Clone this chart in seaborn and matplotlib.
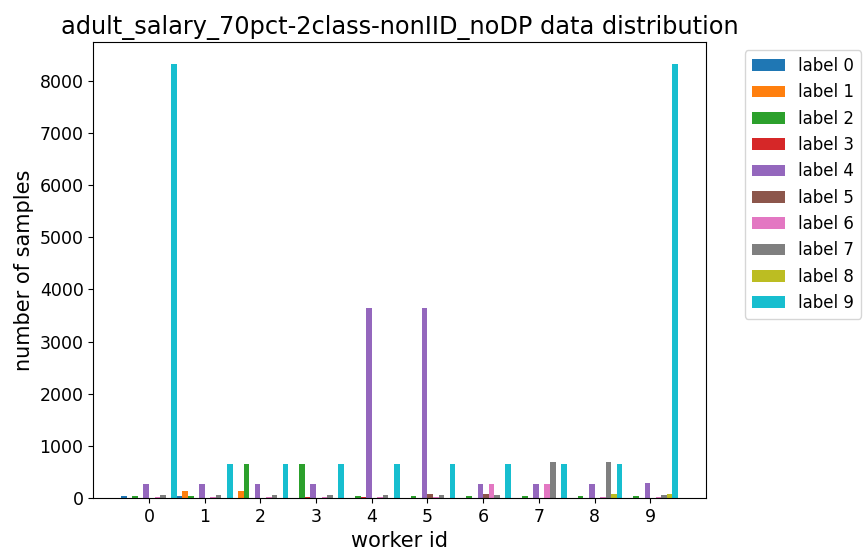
import numpy as np
import pandas as pd
import matplotlib
matplotlib.use("Agg")
import matplotlib.pyplot as plt
import seaborn as sns

workers = [0, 1, 2, 3, 4, 5, 6, 7, 8, 9]
labels = [f"label {i}" for i in range(10)]

# counts[label][worker]
label0 = [45, 45, 0, 0, 0, 0, 0, 0, 0, 0]
label1 = [0, 140, 140, 0, 0, 0, 0, 0, 0, 0]
label2 = [45, 45, 650, 650, 45, 45, 45, 45, 45, 45]
label3 = [0, 0, 0, 25, 25, 0, 0, 0, 0, 0]
label4 = [275, 275, 275, 275, 3650, 3650, 275, 275, 275, 280]
label5 = [0, 0, 0, 0, 0, 80, 80, 0, 0, 0]
label6 = [25, 25, 25, 25, 25, 25, 275, 275, 25, 25]
label7 = [50, 50, 50, 50, 50, 50, 50, 680, 680, 50]
label8 = [0, 0, 0, 0, 0, 0, 0, 0, 75, 75]
label9 = [8330, 650, 650, 650, 650, 650, 650, 650, 650, 8330]

series = [label0, label1, label2, label3, label4, label5, label6, label7, label8, label9]

rows = []
for lab, vals in zip(labels, series):
    for w, v in zip(workers, vals):
        rows.append({"worker": w, "label": lab, "count": v})
df = pd.DataFrame(rows)

fig = plt.figure(figsize=(8.64, 5.52), dpi=100)
ax = fig.add_axes([0.108, 0.098, 0.709, 0.826])

sns.barplot(data=df, x="worker", y="count", hue="label", hue_order=labels,
            order=workers, palette="tab10", width=1.0, dodge=True,
            errorbar=None, saturation=1.0, ax=ax)

ax.set_xlim(-1, 10)
ax.set_title("adult_salary_70pct-2class-nonIID_noDP data distribution", fontsize=17.3)
ax.set_xlabel("worker id", fontsize=15)
ax.set_ylabel("number of samples", fontsize=15)
ax.tick_params(labelsize=12.5)
ax.legend(loc="upper left", bbox_to_anchor=(1.05, 1), fontsize=12)

fig.savefig("out.png", dpi=100)
